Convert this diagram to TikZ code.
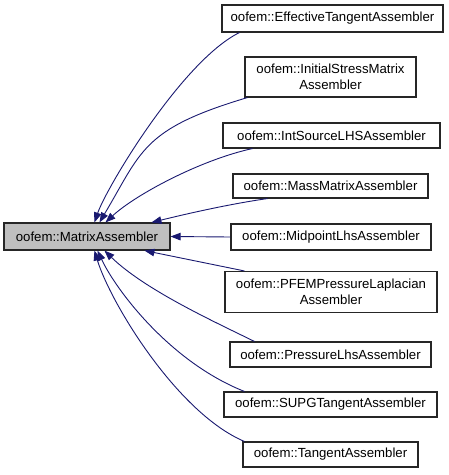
\documentclass[tikz,border=0pt]{standalone}
\usepackage{fontspec}
\setmainfont{Liberation Sans}
\usepackage{xcolor}
\usetikzlibrary{arrows.meta}
\definecolor{edgeblue}{HTML}{191970}

\begin{document}
\begin{tikzpicture}[x=1pt,y=-1pt,
    cls/.style={shape=rectangle, draw=black!85, line width=1.1pt, inner sep=0pt, align=center,
      font=\fontsize{13.2}{15.5}\selectfont},
    base/.style={cls, fill=black!25},
    inh/.style={color=edgeblue, line width=0.9pt, -{Triangle[length=10pt,width=7.5pt]}}]
    \useasboundingbox (0,0) rectangle (449,475);

    \node[base, minimum width=166pt, minimum height=27pt] (ma) at (87,236.5) {oofem::MatrixAssembler};

    \node[cls, minimum width=221pt, minimum height=27pt] (eff) at (332.5,18.5) {oofem::EffectiveTangentAssembler};
    \node[cls, minimum width=171pt, minimum height=40pt] (init) at (330.5,77) {oofem::InitialStressMatrix\\Assembler};
    \node[cls, minimum width=217pt, minimum height=25pt] (ints) at (331.5,135.5) {oofem::IntSourceLHSAssembler};
    \node[cls, minimum width=195pt, minimum height=24pt] (mass) at (330.5,186) {oofem::MassMatrixAssembler};
    \node[cls, minimum width=200pt, minimum height=26pt] (mid) at (331,237) {oofem::MidpointLhsAssembler};
    \node[cls, minimum width=212pt, minimum height=41pt] (pfem) at (331,292) {oofem::PFEMPressureLaplacian\\Assembler};
    \node[cls, minimum width=201pt, minimum height=25pt] (press) at (330.5,354.5) {oofem::PressureLhsAssembler};
    \node[cls, minimum width=213pt, minimum height=25pt] (supg) at (330.5,404.5) {oofem::SUPGTangentAssembler};
    \node[cls, minimum width=175pt, minimum height=25pt] (tan) at (330.5,454.5) {oofem::TangentAssembler};

    \draw[inh] ([xshift=18pt]eff.south west) .. controls (182,61) and (106.5,187.5) .. ([xshift=91pt]ma.north west);
    \draw[inh] ([xshift=3pt]init.south west) .. controls (142,129) and (142,151) .. ([xshift=96pt]ma.north west);
    \draw[inh] ([xshift=30pt]ints.south west) .. controls (200,160) and (135,195) .. ([xshift=102pt]ma.north west);
    \draw[inh] ([xshift=35pt]mass.south west) .. controls (230,204) and (190,213) .. ([xshift=148pt]ma.north west);
    \draw[inh] (mid.west) -- (ma.east);
    \draw[inh] ([xshift=20pt]pfem.north west) -- ([xshift=141pt]ma.south west);
    \draw[inh] ([xshift=25pt]press.north west) .. controls (215,322) and (145,290) .. ([xshift=101pt]ma.south west);
    \draw[inh] ([xshift=21pt]supg.north west) .. controls (170,362) and (116,290) .. ([xshift=94pt]ma.south west);
    \draw[inh] ([xshift=2pt]tan.north west) .. controls (177,413) and (110,302) .. ([xshift=91pt]ma.south west);
\end{tikzpicture}
\end{document}
